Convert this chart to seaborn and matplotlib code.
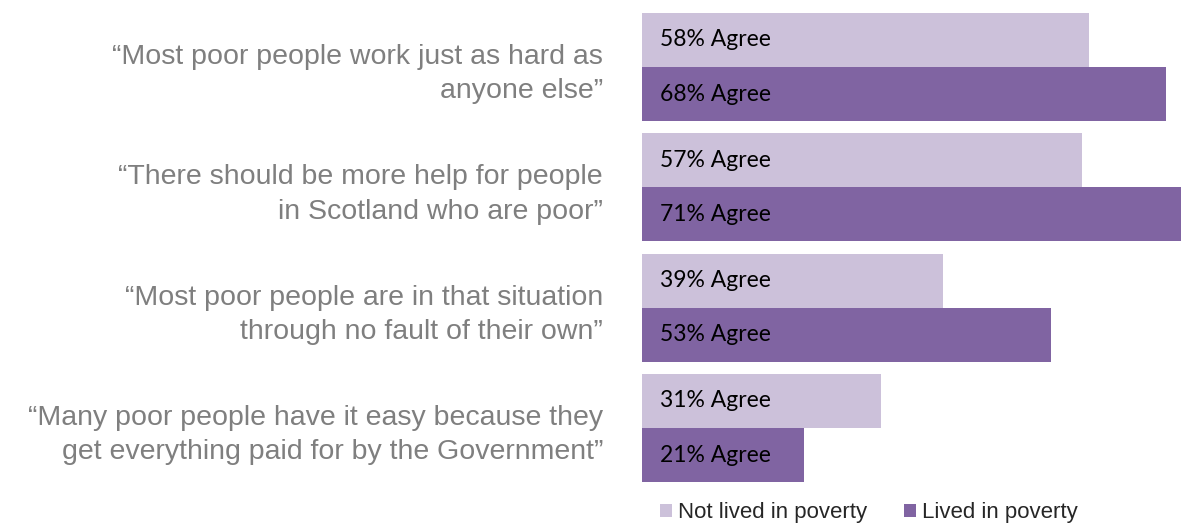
import matplotlib
matplotlib.use("Agg")
import matplotlib.pyplot as plt
import seaborn as sns
import pandas as pd

# Survey statements and agreement shares (%)
statements = [
    "\u201cMost poor people work just as hard as\nanyone else\u201d",
    "\u201cThere should be more help for people\nin Scotland who are poor\u201d",
    "\u201cMost poor people are in that situation\nthrough no fault of their own\u201d",
    "\u201cMany poor people have it easy because they\nget everything paid for by the Government\u201d",
]
groups = ["Not lived in poverty", "Lived in poverty"]
not_lived = [58, 57, 39, 31]
lived = [68, 71, 53, 21]

colors = {"Not lived in poverty": "#CCC1DA", "Lived in poverty": "#8064A2"}

df = pd.DataFrame({
    "statement": statements * 2,
    "group": [groups[0]] * len(statements) + [groups[1]] * len(statements),
    "agree": not_lived + lived,
})

sns.set_theme(style="white")
plt.rcParams["font.family"] = ["Liberation Sans", "DejaVu Sans"]

fig = plt.figure(figsize=(11.81, 5.26), dpi=100)
ax = fig.add_axes([0.544, 0.0719, 0.456, 0.9151])

sns.barplot(
    data=df, y="statement", x="agree", hue="group",
    order=statements, hue_order=groups, palette=colors,
    orient="h", width=0.9, gap=0, linewidth=0, saturation=1,
    ax=ax,
)

ax.set_xlim(0, 69.9)
ax.set_ylim(3.5, -0.5)
ax.set_xlabel("")
ax.set_ylabel("")
ax.set_xticks([])
for s in ax.spines.values():
    s.set_visible(False)

ax.tick_params(axis="y", length=0, pad=28.5, labelsize=20.5, labelcolor="#7F7F7F")
for lbl in ax.get_yticklabels():
    lbl.set_horizontalalignment("right")
    lbl.set_multialignment("right")
    lbl.set_linespacing(1.42)

# value labels inside the bars, near the left end
for container in ax.containers:
    for bar in container:
        val = bar.get_width()
        ax.annotate(
            f"{val:.0f}% Agree",
            xy=(0, bar.get_y() + bar.get_height() / 2),
            xytext=(12.6, 0), textcoords="offset points",
            ha="left", va="center", fontsize=16.5,
            family=["Lato", "DejaVu Sans"], color="#000000",
        )

sns.move_legend(
    ax, "center",
    bbox_to_anchor=(0.7358, 0.025), bbox_transform=fig.transFigure,
    ncol=2, title=None, frameon=False, fontsize=16,
    handlelength=0.55, handleheight=0.55, handletextpad=0.27,
    columnspacing=1.65, borderaxespad=0, borderpad=0,
)

fig.savefig("out.png", dpi=100)
